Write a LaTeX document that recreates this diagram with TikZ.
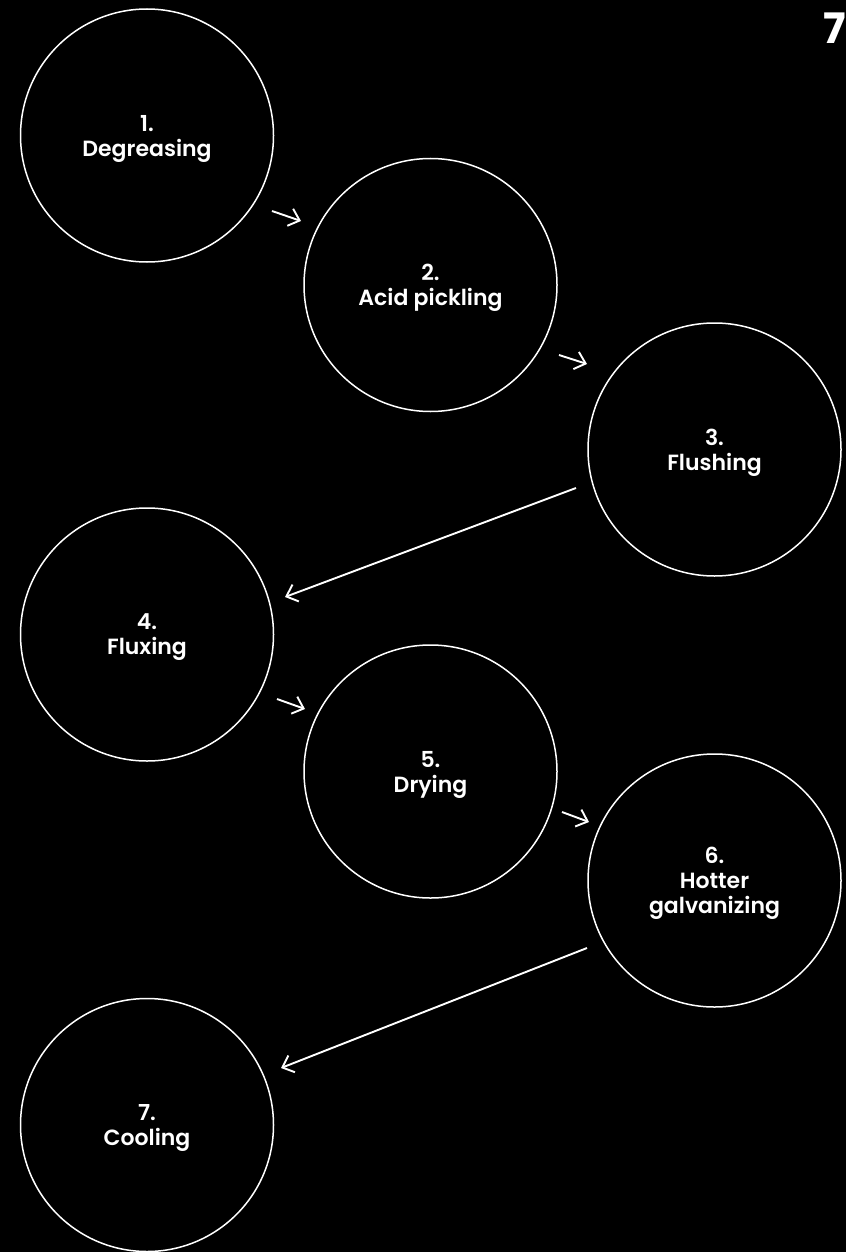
\documentclass[tikz,border=0pt]{standalone}
\usepackage{fontspec}
\setmainfont{Poppins}
\newfontfamily\psemi{Poppins SemiBold}
\usetikzlibrary{arrows.meta}
\tikzset{
  stepcircle/.style={circle, draw=white, line width=1.5pt, minimum size=253pt, inner sep=0pt},
  steptext/.style={text=white, align=center, inner sep=0pt, yshift=-3pt,
    font=\psemi\fontsize{22}{25}\selectfont},
  flowarrow/.style={draw=white, line width=1.9pt, -{Straight Barb[length=10pt,width=18pt,line width=1.9pt]}},
}
\begin{document}
\begin{tikzpicture}[x=1pt,y=-1pt]
\fill[black] (0,0) rectangle (846,1252);
\useasboundingbox (0,0) rectangle (846,1252);
\node[stepcircle] (s1) at (147,135.5) {};
\node[stepcircle] (s2) at (430.5,285) {};
\node[stepcircle] (s3) at (714.5,449.5) {};
\node[stepcircle] (s4) at (147,634.5) {};
\node[stepcircle] (s5) at (430.5,771.5) {};
\node[stepcircle] (s6) at (714.5,880.5) {};
\node[stepcircle] (s7) at (147,1125) {};
\node[steptext] (t1) at (s1) {1.\\Degreasing};
\node[steptext] (t2) at (s2) {2.\\Acid pickling};
\node[steptext] (t3) at (s3) {3.\\Flushing};
\node[steptext] (t4) at (s4) {4.\\Fluxing};
\node[steptext] (t5) at (s5) {5.\\Drying};
\node[steptext] (t6) at (s6) {6.\\Hotter\\galvanizing};
\node[steptext] (t7) at (s7) {7.\\Cooling};
\node[text=white, font=\bfseries\fontsize{42}{42}\selectfont, inner sep=0pt] (num) at (835,28) {7};
\coordinate (a1s) at (272,211); \coordinate (a1e) at (301,221);
\coordinate (a2s) at (559,355); \coordinate (a2e) at (587,364);
\coordinate (a3s) at (576,488); \coordinate (a3e) at (285,597);
\coordinate (a4s) at (277,699); \coordinate (a4e) at (305,709);
\coordinate (a5s) at (562,812); \coordinate (a5e) at (589,822);
\coordinate (a6s) at (587,948); \coordinate (a6e) at (281,1068);
\draw[flowarrow] (a1s) -- (a1e);
\draw[flowarrow] (a2s) -- (a2e);
\draw[flowarrow] (a3s) -- (a3e);
\draw[flowarrow] (a4s) -- (a4e);
\draw[flowarrow] (a5s) -- (a5e);
\draw[flowarrow] (a6s) -- (a6e);
\end{tikzpicture}
\end{document}
